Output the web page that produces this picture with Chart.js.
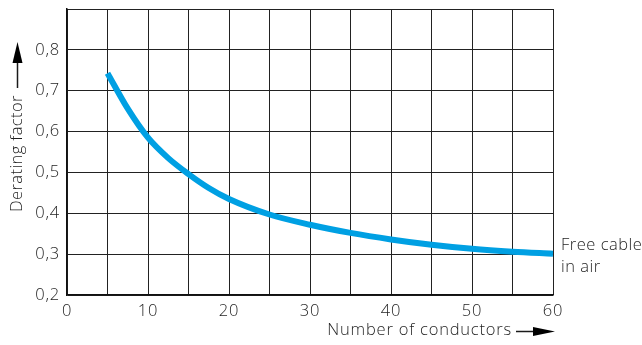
<!DOCTYPE html>
<html>
<head>
<meta charset="utf-8">
<script src="https://cdn.jsdelivr.net/npm/chart.js@4"></script>
<style>
  html, body { margin: 0; padding: 0; background: #fff; }
  #wrap { width: 642px; height: 345px; position: relative; }
</style>
</head>
<body>
<div id="wrap"><canvas id="chart" width="642" height="345"></canvas></div>
<script>
// conductors vs derating factor (free cable in air)
const conductors = [5, 7.5, 10, 12.5, 15, 17.5, 20, 25, 30, 35, 40, 45, 50, 55, 60];
const deratingFactor = [0.743, 0.656, 0.585, 0.535, 0.496, 0.462, 0.435, 0.397, 0.372, 0.352, 0.336, 0.323, 0.313, 0.306, 0.301];
const curveLabel = ['Free cable', 'in air'];
const xTitle = 'Number of conductors';
const yTitle = 'Derating factor';

const FONT = '"Open Sans", "Noto Sans", sans-serif';
const TXT = '#1e1e1e';
const FSIZE = 16.5;

// axis titles with arrows + curve label
const labelsPlugin = {
    id: 'labels',
    beforeDraw(chart) {
        // the reference type face is wider; spread letters a little
        chart.ctx.letterSpacing = '0.8px';
    },
    afterDraw(chart) {
        const ctx = chart.ctx;
        const area = chart.chartArea;
        ctx.save();
        ctx.fillStyle = TXT;
        ctx.strokeStyle = '#1a1a1a';
        ctx.font = '300 ' + FSIZE + 'px ' + FONT;

        // x title + arrow
        ctx.textAlign = 'right';
        ctx.textBaseline = 'middle';
        ctx.fillText(xTitle, 512, 330);
        ctx.lineWidth = 1.5;
        ctx.beginPath();
        ctx.moveTo(516, 331.5);
        ctx.lineTo(534, 331.5);
        ctx.stroke();
        ctx.fillStyle = '#000';
        ctx.beginPath();
        ctx.moveTo(533, 327);
        ctx.lineTo(555, 331.5);
        ctx.lineTo(533, 336);
        ctx.closePath();
        ctx.fill();

        // y title + arrow
        ctx.fillStyle = TXT;
        ctx.letterSpacing = '0.4px';
        ctx.save();
        ctx.translate(17, 212);
        ctx.rotate(-Math.PI / 2);
        ctx.textAlign = 'left';
        ctx.textBaseline = 'middle';
        ctx.fillText(yTitle, 0, 0);
        ctx.restore();
        ctx.beginPath();
        ctx.moveTo(17.5, 88);
        ctx.lineTo(17.5, 62);
        ctx.stroke();
        ctx.fillStyle = '#000';
        ctx.beginPath();
        ctx.moveTo(12.5, 63);
        ctx.lineTo(17.5, 42);
        ctx.lineTo(22.5, 63);
        ctx.closePath();
        ctx.fill();

        // curve label
        ctx.fillStyle = TXT;
        ctx.letterSpacing = '0.5px';
        ctx.textAlign = 'left';
        ctx.textBaseline = 'alphabetic';
        ctx.fillText(curveLabel[0], area.right + 8, 250);
        ctx.fillText(curveLabel[1], area.right + 8, 272);
        ctx.restore();
    }
};

new Chart(document.getElementById('chart'), {
    type: 'line',
    data: {
        labels: conductors,
        datasets: [{
            data: conductors.map((x, i) => ({ x: x, y: deratingFactor[i] })),
            borderColor: '#00a0e3',
            borderWidth: 6,
            borderCapStyle: 'butt',
            pointRadius: 0,
            cubicInterpolationMode: 'monotone',
            fill: false
        }]
    },
    options: {
        responsive: false,
        animation: false,
        devicePixelRatio: 1,
        layout: { padding: { left: 0, right: 89, top: 9, bottom: 0 } },
        plugins: { legend: { display: false }, tooltip: { enabled: false } },
        scales: {
            x: {
                type: 'linear',
                min: 0, max: 60,
                afterFit: s => { s.height = 50; s.paddingLeft = 0; s.paddingRight = 0; },
                border: { color: '#111', width: 1.5 },
                grid: { color: '#222', lineWidth: 1, drawTicks: false },
                ticks: {
                    stepSize: 5, autoSkip: false, maxRotation: 0, padding: 6,
                    color: TXT, font: { family: FONT, size: FSIZE, weight: 300 },
                    callback: v => (v % 10 === 0 ? String(v) : '')
                }
            },
            y: {
                min: 0.2, max: 0.9,
                afterFit: s => { s.width = 67; s.paddingTop = 0; s.paddingBottom = 0; },
                border: { color: '#111', width: 1.5 },
                grid: { color: '#222', lineWidth: 1, drawTicks: false },
                ticks: {
                    stepSize: 0.1, padding: 7,
                    color: TXT, font: { family: FONT, size: FSIZE, weight: 300 },
                    callback: v => (Math.abs(v - 0.9) < 1e-6 ? '' : v.toFixed(1).replace('.', ','))
                }
            }
        }
    },
    plugins: [labelsPlugin]
});
</script>
</body>
</html>
